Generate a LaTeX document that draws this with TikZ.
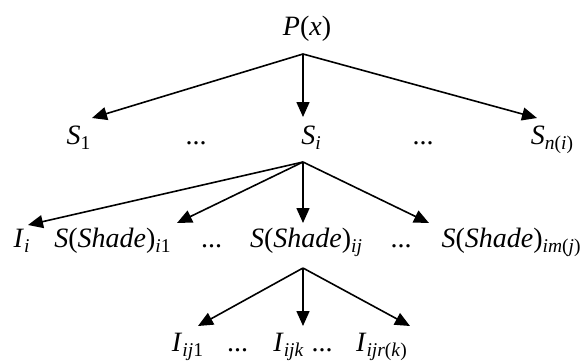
\documentclass[tikz,border=0pt]{standalone}
\usepackage{fontspec}
\setmainfont{LiberationSerif}[Extension=.ttf, UprightFont=*-Regular, ItalicFont=*-Italic, BoldFont=*-Bold, BoldItalicFont=*-BoldItalic]
\usetikzlibrary{arrows.meta}
% lowered, smaller index text
\newcommand{\sbs}[1]{\raisebox{-0.18em}{\fontsize{19.5}{20}\selectfont #1}}
\newcommand{\iv}[1]{\textit{#1}}
\begin{document}
\begin{tikzpicture}[x=1pt,y=-1pt,
  lbl/.style={font=\fontsize{28}{30}\selectfont, inner sep=0pt, anchor=base},
  branch/.style={line width=1.6pt, -{Triangle[length=15pt,width=13pt]}}]
\useasboundingbox (0,0) rectangle (587,360);

% level 0
\node[lbl] (p) at (307,35) {\iv{P}(\iv{x})};
% level 1
\node[lbl] (s1) at (78.5,144) {\iv{S}\sbs{1}};
\node[lbl] (d1) at (196,144) {...};
\node[lbl] (si) at (311,144) {\iv{S}\sbs{\iv{i}}};
\node[lbl] (d2) at (423,144) {...};
\node[lbl] (sn) at (552,144) {\iv{S}\sbs{\iv{n}(\iv{i})}};
% level 2
\node[lbl] (ii) at (21.5,247) {\iv{I}\sbs{\iv{i}}};
\node[lbl] (sh1) at (112.5,247) {\iv{S}(\iv{Shade})\sbs{\iv{i}1}};
\node[lbl] (d3) at (211.5,247) {...};
\node[lbl] (shj) at (306,247) {\iv{S}(\iv{Shade})\sbs{\iv{ij}}};
\node[lbl] (d4) at (401,247) {...};
\node[lbl] (shm) at (511,247) {\iv{S}(\iv{Shade})\sbs{\iv{im}(\iv{j})}};
% level 3
\node[lbl] (i1) at (187.5,351) {\iv{I}\sbs{\iv{ij}1}};
\node[lbl] (d5) at (237.5,351) {...};
\node[lbl] (ik) at (288.5,351) {\iv{I}\sbs{\iv{ijk}}};
\node[lbl] (d6) at (322,351) {...};
\node[lbl] (ir) at (381.5,351) {\iv{I}\sbs{\iv{ijr}(\iv{k})}};

% branch points below each parent
\coordinate (v1) at (303,54);
\coordinate (v2) at (303,162);
\coordinate (v3) at (303,268);
% arrow ends above each child
\coordinate (ts1) at (92,118);
\coordinate (tsi) at (303,117);
\coordinate (tsn) at (537,118);
\coordinate (tii) at (28,225);
\coordinate (tsh1) at (177,223);
\coordinate (tshj) at (303,223);
\coordinate (tshm) at (429,223);
\coordinate (ti1) at (198,326);
\coordinate (tik) at (303,326);
\coordinate (tir) at (410,326);

\draw[branch] (v1) -- (ts1);
\draw[branch] (v1) -- (tsi);
\draw[branch] (v1) -- (tsn);
\draw[branch] (v2) -- (tii);
\draw[branch] (v2) -- (tsh1);
\draw[branch] (v2) -- (tshj);
\draw[branch] (v2) -- (tshm);
\draw[branch] (v3) -- (ti1);
\draw[branch] (v3) -- (tik);
\draw[branch] (v3) -- (tir);
\end{tikzpicture}
\end{document}
